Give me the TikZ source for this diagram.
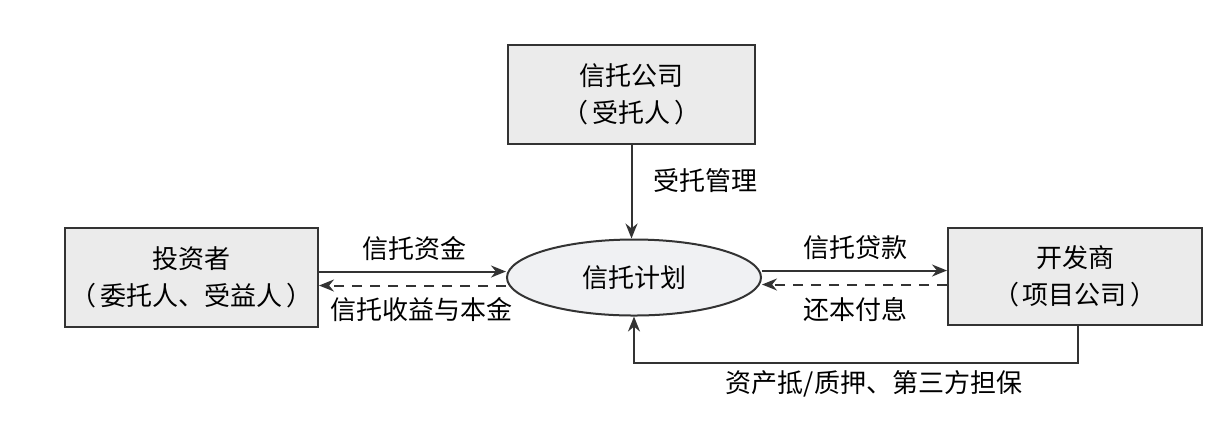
\documentclass[tikz,border=0pt]{standalone}
\usepackage{fontspec}
\setmainfont{Noto Sans CJK SC}
\usetikzlibrary{arrows.meta,shapes.geometric}
\definecolor{boxfill}{HTML}{EBEBEB}
\definecolor{ellfill}{HTML}{F0F1F3}
\definecolor{linec}{HTML}{333333}
\newcommand{\lp}{（\kern2pt}
\newcommand{\rp}{\kern2pt）}
\begin{document}
\begin{tikzpicture}[x=0.5pt,y=-0.5pt,
  box/.style={draw=linec,line width=1pt,fill=boxfill,align=center,font=\fontsize{13}{18.5}\selectfont,inner sep=0pt},
  ell/.style={ellipse,draw=linec,line width=1pt,fill=ellfill,minimum width=127pt,minimum height=38pt,inner sep=0pt,font=\fontsize{13}{15}\selectfont},
  conn/.style={draw=linec,line width=1pt,-{Stealth[length=7.5pt,width=6pt]}},
  dconn/.style={conn,dash pattern=on 5pt off 4pt},
  lab/.style={font=\fontsize{13}{15}\selectfont,text=black,inner sep=0pt}]
\useasboundingbox (0,0) rectangle (1220,420);
\node[box,minimum width=123.5pt,minimum height=49.5pt] (T) at (631.5,94.5) {信托公司\\\lp 受托人\rp};
\node[box,minimum width=126.5pt,minimum height=49.5pt] (L) at (191.5,277.5) {投资者\\\lp 委托人、受益人\rp};
\node[box,minimum width=127pt,minimum height=48.5pt] (R) at (1075,276.5) {开发商\\\lp 项目公司\rp};
\node[ell] (E) at (634,277.5) {信托计划};
% top
\draw[conn] (T.south) -- (T.south |- E.north);
\node[lab,anchor=west] (lt) at (653,181) {受托管理};
% left
\draw[conn] ([yshift=3pt]L.east) -- ([yshift=3pt]L.east -| E.west);
\draw[dconn] ([yshift=-4pt]L.east -| E.west) -- ([yshift=-4pt]L.east);
\node[lab] (l1) at (414,249) {信托资金};
\node[lab] (l2) at (421,310) {信托收益与本金};
% right
\draw[conn] ([yshift=3pt]R.west -| E.east) -- ([yshift=3pt]R.west);
\draw[dconn] ([yshift=-4pt]R.west) -- ([yshift=-4pt]R.west -| E.east);
\node[lab] (r1) at (855,248) {信托贷款};
\node[lab] (r2) at (855,310) {还本付息};
% bottom
\coordinate (B) at (1078,363);
\draw[conn] (R.south -| B) -- (B) -| (E.south);
\node[lab] (b1) at (874,384) {资产抵/质押、第三方担保};
\end{tikzpicture}
\end{document}
